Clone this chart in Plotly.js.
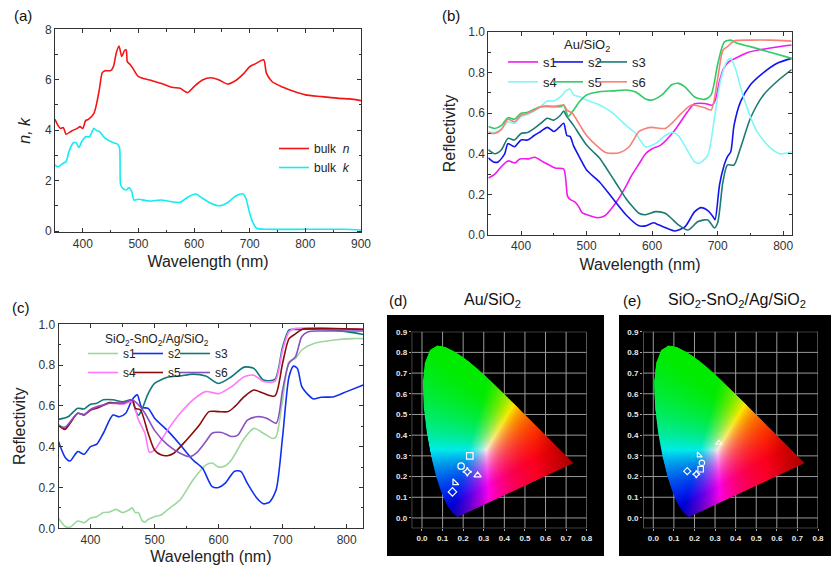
<!DOCTYPE html>
<html><head><meta charset="utf-8">
<script src="https://cdn.plot.ly/plotly-3.0.1.min.js"></script>
<style>html,body{margin:0;padding:0;background:#fff}#plot{width:831px;height:565px}</style>
</head><body><div id="plot"></div>
<script>
// ---------- (a) bulk n, k ----------
var aWlN = [350,355,360,365,370,380,390,395,400,405,410,420,425,430,435,440,450,455,460,465,470,475,478,480,485,490,500,520,540,560,575,588,600,615,630,645,660,675,690,700,710,725,730,740,760,780,800,830,860,880,900];
var aN   = [4.43,4.2,4.07,4.1,3.84,3.97,4.07,4.14,4.07,4.38,4.43,4.67,5.07,5.66,6.28,6.36,6.36,6.52,7.05,7.34,6.92,7.16,7.18,6.72,6.6,6.45,6.12,5.99,5.86,5.7,5.66,5.49,5.73,5.99,6.08,5.99,5.83,5.97,6.26,6.52,6.63,6.79,6.26,5.93,5.7,5.53,5.4,5.33,5.26,5.24,5.17];
var aWlK = [350,355,365,370,375,383,388,393,398,405,412,420,425,430,440,455,462,466,468,472,478,483,488,492,500,520,540,560,575,590,603,615,630,645,660,675,688,693,700,705,712,730,800,870,900];
var aK   = [2.62,2.55,2.69,2.75,3.15,3.5,3.5,3.31,3.55,3.74,3.74,4.07,3.98,3.94,3.68,3.5,3.45,3.3,1.83,1.69,1.63,1.72,1.56,1.23,1.26,1.19,1.23,1.16,1.14,1.36,1.47,1.3,1.1,1.0,1.12,1.39,1.47,1.3,0.7,0.37,0.11,0.07,0.07,0.07,0.04];

// ---------- (b) Au/SiO2 reflectivity ----------
var bS1wl = [350,360,368,380,391,398,411,421,434,452,465,468,471,475,482,488,493,505,516,528,538,549,560,569,580,590,600,613,633,654,664,680,692,697,703,709,718,727,747,778,813];
var bS1   = [0.28,0.30,0.33,0.365,0.355,0.375,0.375,0.383,0.36,0.33,0.325,0.28,0.19,0.175,0.163,0.14,0.11,0.095,0.085,0.095,0.13,0.18,0.24,0.295,0.35,0.40,0.425,0.443,0.51,0.607,0.645,0.648,0.64,0.67,0.76,0.82,0.855,0.87,0.90,0.92,0.936];
var bS2wl = [350,358,365,375,380,390,400,410,420,430,440,450,458,465,470,475,480,490,500,520,540,560,580,590,602,610,625,635,650,665,675,685,693,696,703,710,715,720,725,735,750,770,790,813];
var bS2   = [0.38,0.36,0.36,0.40,0.45,0.435,0.468,0.468,0.49,0.51,0.53,0.51,0.53,0.55,0.49,0.485,0.44,0.378,0.32,0.26,0.18,0.10,0.045,0.045,0.06,0.05,0.03,0.02,0.04,0.115,0.135,0.12,0.09,0.075,0.25,0.345,0.386,0.41,0.54,0.657,0.74,0.80,0.845,0.87];
var bS3wl = [350,360,370,380,390,400,410,420,430,440,450,460,465,470,480,490,500,510,520,530,540,550,560,570,580,590,605,620,630,640,655,670,685,695,700,708,715,725,735,750,770,790,813];
var bS3   = [0.42,0.40,0.42,0.476,0.468,0.50,0.505,0.525,0.55,0.575,0.566,0.59,0.61,0.583,0.54,0.49,0.443,0.41,0.378,0.33,0.28,0.23,0.18,0.14,0.107,0.10,0.115,0.107,0.08,0.05,0.025,0.066,0.074,0.035,0.06,0.26,0.345,0.345,0.43,0.575,0.69,0.755,0.815];
var bS4wl = [350,360,370,380,390,400,410,420,430,440,450,460,470,475,480,490,500,520,540,560,575,590,605,620,630,640,655,665,672,685,695,705,715,720,727,740,760,780,795,813];
var bS4   = [0.51,0.505,0.52,0.558,0.55,0.583,0.594,0.61,0.632,0.66,0.66,0.68,0.714,0.718,0.69,0.68,0.665,0.64,0.60,0.54,0.50,0.435,0.45,0.49,0.505,0.49,0.41,0.36,0.353,0.394,0.575,0.77,0.86,0.87,0.82,0.673,0.51,0.43,0.40,0.41];
var bS5wl = [350,360,370,380,390,400,410,420,430,440,460,465,472,480,490,500,520,540,560,575,590,600,615,630,640,650,665,680,690,700,710,720,730,750,780,813];
var bS5   = [0.534,0.525,0.54,0.578,0.57,0.60,0.604,0.62,0.632,0.635,0.632,0.64,0.585,0.615,0.66,0.69,0.706,0.71,0.714,0.705,0.67,0.665,0.69,0.74,0.747,0.73,0.68,0.668,0.69,0.84,0.95,0.96,0.944,0.928,0.90,0.87];
var bS6wl = [350,360,370,380,390,400,410,420,430,450,465,470,478,490,500,520,530,550,565,580,590,600,620,630,645,660,680,690,700,708,715,725,750,780,813];
var bS6   = [0.504,0.50,0.52,0.57,0.558,0.59,0.60,0.615,0.632,0.632,0.64,0.615,0.60,0.54,0.49,0.427,0.405,0.405,0.435,0.51,0.525,0.53,0.525,0.55,0.60,0.64,0.627,0.616,0.77,0.91,0.928,0.956,0.96,0.96,0.955];

// ---------- (c) SiO2-SnO2/Ag/SiO2 reflectivity ----------
var cS1wl = [350,360,368,380,390,400,410,420,430,440,450,460,465,470,475,480,485,490,500,510,520,540,560,580,590,600,610,620,640,655,670,685,690,700,710,720,730,750,780,810,826];
var cS1   = [0.05,0.01,0.005,0.036,0.028,0.05,0.057,0.077,0.08,0.093,0.077,0.09,0.1,0.077,0.077,0.04,0.03,0.044,0.057,0.065,0.09,0.14,0.237,0.31,0.32,0.30,0.305,0.335,0.44,0.49,0.466,0.44,0.45,0.63,0.817,0.833,0.874,0.907,0.923,0.93,0.93];
var cS2wl = [350,360,368,380,390,400,410,420,435,445,455,465,473,480,490,500,520,540,560,575,590,600,610,625,635,645,660,670,680,690,700,710,717,723,730,740,748,760,780,800,826];
var cS2   = [0.425,0.35,0.33,0.376,0.363,0.40,0.413,0.466,0.555,0.547,0.564,0.63,0.654,0.593,0.588,0.54,0.48,0.41,0.335,0.294,0.204,0.20,0.22,0.28,0.278,0.22,0.147,0.12,0.13,0.19,0.45,0.743,0.795,0.784,0.694,0.654,0.634,0.642,0.645,0.67,0.703];
var cS3wl = [350,365,380,390,400,410,420,435,450,465,470,475,480,490,500,520,540,560,580,600,620,640,655,670,688,700,710,720,760,800,826];
var cS3   = [0.534,0.547,0.588,0.585,0.608,0.613,0.63,0.63,0.62,0.63,0.58,0.555,0.58,0.66,0.71,0.74,0.747,0.756,0.747,0.71,0.743,0.79,0.784,0.727,0.73,0.89,0.972,0.975,0.975,0.964,0.95];
var cS4wl = [350,360,380,390,400,410,430,450,465,475,485,492,500,520,540,560,580,600,620,640,655,670,688,700,710,720,760,826];
var cS4   = [0.506,0.49,0.564,0.556,0.58,0.588,0.613,0.608,0.62,0.53,0.466,0.373,0.384,0.48,0.564,0.63,0.67,0.66,0.694,0.743,0.75,0.72,0.72,0.874,0.964,0.98,0.98,0.975];
var cS5wl = [350,360,380,390,400,410,430,450,465,470,478,490,500,510,520,530,550,570,585,600,615,625,640,655,670,688,700,710,720,730,760,826];
var cS5   = [0.506,0.485,0.564,0.556,0.58,0.59,0.616,0.613,0.63,0.588,0.58,0.466,0.384,0.36,0.356,0.368,0.433,0.506,0.572,0.572,0.572,0.596,0.645,0.678,0.662,0.649,0.81,0.93,0.953,0.975,0.98,0.975];
var cS6wl = [350,360,380,390,400,430,450,465,475,485,500,520,540,555,565,580,590,605,620,630,645,660,675,690,700,710,720,730,740,760,826];
var cS6   = [0.506,0.495,0.564,0.556,0.583,0.613,0.613,0.63,0.605,0.564,0.48,0.41,0.368,0.351,0.368,0.425,0.466,0.47,0.45,0.457,0.53,0.547,0.54,0.515,0.678,0.81,0.84,0.94,0.964,0.967,0.967];

// ---------- (d)/(e) CIE 1931 chromaticity ----------
var locusX = [0.1741,0.1733,0.1714,0.1644,0.1566,0.1440,0.1241,0.1096,0.0913,0.0687,0.0454,0.0235,0.0082,0.0039,0.0139,0.0389,0.0743,0.1142,0.1547,0.1929,0.2296,0.2658,0.3016,0.3373,0.3731,0.4087,0.4441,0.4788,0.5125,0.5448,0.5752,0.6029,0.6270,0.6658,0.6915,0.7079,0.7190,0.7260,0.7300,0.7334,0.7347];
var locusY = [0.0050,0.0048,0.0051,0.0109,0.0177,0.0297,0.0578,0.0868,0.1327,0.2007,0.2950,0.4127,0.5384,0.6548,0.7502,0.8120,0.8338,0.8262,0.8059,0.7816,0.7543,0.7243,0.6923,0.6589,0.6245,0.5896,0.5547,0.5202,0.4866,0.4544,0.4242,0.3965,0.3725,0.3340,0.3083,0.2920,0.2809,0.2740,0.2700,0.2666,0.2653];
var cieTickX = [0,0.1,0.2,0.3,0.4,0.5,0.6,0.7,0.8];
var cieTickY = [0,0.1,0.2,0.3,0.4,0.5,0.6,0.7,0.8,0.9];
var dX = [0.232,0.19,0.22,0.27,0.16,0.148];
var dY = [0.30,0.25,0.223,0.206,0.17,0.126];
var dSym = ['square-open','circle-open','star-diamond-open','triangle-up-open','triangle-sw-open','diamond-open'];
var eX = [0.318,0.222,0.236,0.23,0.165,0.209];
var eY = [0.363,0.303,0.266,0.235,0.226,0.211];
var eSym = ['triangle-up-open','triangle-sw-open','circle-open','square-open','diamond-open','star-diamond-open'];

var W = 831, H = 565;
function px(v){return v/W;}
function py(v){return 1-v/H;}
var FONT = 'Arial, "Liberation Sans", sans-serif';

function cieImage(){
  var S=400, CW=300, CH=340;
  var c1=document.createElement('canvas'); c1.width=CW; c1.height=CH;
  var g1=c1.getContext('2d'); var img=g1.createImageData(CW,CH);
  function clamp(v){return v<0?0:(v>1?1:v);}
  for(var j=0;j<CH;j++){
    for(var i=0;i<CW;i++){
      var x=(i+0.5)/S, y=0.85-(j+0.5)/S; if(y<0.002) y=0.002;
      var X=x/y, Y=1, Z=(1-x-y)/y;
      var r=3.2406*X-1.5372*Y-0.4986*Z, g=-0.9689*X+1.8758*Y+0.0415*Z, b=0.0557*X-0.2040*Y+1.0570*Z;
      r=Math.max(0,r); g=Math.max(0,g); b=Math.max(0,b);
      var m=Math.max(r,g,b,1e-6); r/=m; g/=m; b/=m;
      r=Math.pow(r,1.4*0.75); g=Math.pow(g,1.4*0.75); b=Math.pow(b,1.4*0.75);
      var f=1-0.32*clamp((x-0.55)/0.18);
      var fb=1-0.22*clamp((0.12-y)/0.12);
      var k=(j*CW+i)*4;
      img.data[k]=Math.round(255*r*f*0.98);
      img.data[k+1]=Math.round(255*g*f*0.92*fb);
      img.data[k+2]=Math.round(255*b*f*0.92*fb);
      img.data[k+3]=255;
    }
  }
  g1.putImageData(img,0,0);
  var c2=document.createElement('canvas'); c2.width=CW; c2.height=CH;
  var g2=c2.getContext('2d');
  g2.beginPath();
  for(var n=0;n<locusX.length;n++){
    var xx=locusX[n]*S, yy=(0.85-locusY[n])*S;
    if(n===0) g2.moveTo(xx,yy); else g2.lineTo(xx,yy);
  }
  g2.closePath(); g2.clip(); g2.drawImage(c1,0,0);
  return c2.toDataURL('image/png');
}
var cieSrc = cieImage();

function line(x,y,color,name,xa,ya,leg){
  return {type:'scatter',mode:'lines',x:x,y:y,name:name,xaxis:xa,yaxis:ya,legend:leg,
    line:{color:color,width:1.6,shape:'spline',smoothing:0.7},showlegend:true,hoverinfo:'skip'};
}
var traces = [
  line(aWlN,aN,'#f31515','bulk  <i>n</i>','x','y','legend'),
  line(aWlK,aK,'#12ecf2','bulk  <i>k</i>','x','y','legend'),
  line(bS1wl,bS1,'#f01af0','s1','x2','y2','legend2'),
  line(bS2wl,bS2,'#1414f0','s2','x2','y2','legend3'),
  line(bS3wl,bS3,'#1c7a72','s3','x2','y2','legend4'),
  line(bS4wl,bS4,'#80f6f6','s4','x2','y2','legend2'),
  line(bS5wl,bS5,'#2ecc64','s5','x2','y2','legend3'),
  line(bS6wl,bS6,'#f88078','s6','x2','y2','legend4'),
  line(cS1wl,cS1,'#9cd89c','s1','x3','y3','legend5'),
  line(cS2wl,cS2,'#1030f0','s2','x3','y3','legend6'),
  line(cS3wl,cS3,'#107878','s3','x3','y3','legend7'),
  line(cS4wl,cS4,'#ff78ff','s4','x3','y3','legend5'),
  line(cS5wl,cS5,'#8a0c0c','s5','x3','y3','legend6'),
  line(cS6wl,cS6,'#8a50c0','s6','x3','y3','legend7'),
  {type:'scatter',mode:'markers',x:dX,y:dY,xaxis:'x4',yaxis:'y4',showlegend:false,hoverinfo:'skip',
   marker:{symbol:dSym,size:6.5,color:'#ffffff',line:{color:'#ffffff',width:1.2}}},
  {type:'scatter',mode:'markers',x:eX,y:eY,xaxis:'x5',yaxis:'y5',showlegend:false,hoverinfo:'skip',
   marker:{symbol:eSym,size:5.5,color:'#ffffff',line:{color:'#ffffff',width:1.1}}}
];

function specAx(domain,range,dtick,minor,fmt,title,anchor,standoff,italic){
  return {domain:domain,range:range,dtick:dtick,tick0:0,tickformat:fmt,anchor:anchor,
    showline:true,linecolor:'#333',linewidth:1,mirror:'allticks',ticks:'inside',ticklen:4,tickcolor:'#333',
    minor:{dtick:minor,ticks:'inside',ticklen:2.5,tickcolor:'#333'},
    showgrid:false,zeroline:false,fixedrange:true,
    tickfont:{family:FONT,size:12,color:'#333'},
    title:{text:title,standoff:standoff,font:{family:FONT,size:16,color:'#222',style:italic?'italic':'normal'}}};
}
function cieAx(domain,vals,anchor){
  return {domain:domain,range:[-0.05,vals[vals.length-1]],tickvals:vals,tickformat:'.1f',anchor:anchor,
    showline:false,showgrid:false,zeroline:false,ticks:'outside',ticklen:2,tickcolor:'#aaa',fixedrange:true,
    tickfont:{family:FONT,size:8,color:'#e8e8e8',weight:'bold'}};
}
function leg(x,y,size){
  return {x:x,y:y,xanchor:'left',yanchor:'top',bgcolor:'rgba(0,0,0,0)',borderwidth:0,
    font:{family:FONT,size:size,color:'#222'},tracegroupgap:0,itemwidth:30};
}

var shapes = [
  {type:'rect',xref:'paper',yref:'paper',x0:px(387),x1:px(604),y0:py(556),y1:py(315),fillcolor:'#000',line:{width:0},layer:'below'},
  {type:'rect',xref:'paper',yref:'paper',x0:px(619),x1:px(831),y0:py(556),y1:py(315),fillcolor:'#000',line:{width:0},layer:'below'}
];
['4','5'].forEach(function(s){
  var gx = [-0.05].concat(cieTickX), gy = [-0.05].concat(cieTickY);
  gx.forEach(function(v){shapes.push({type:'line',xref:'x'+s,yref:'y'+s,x0:v,x1:v,y0:-0.05,y1:0.9,layer:'below',line:{color:'#9a9a9a',width:1}});});
  gy.forEach(function(v){shapes.push({type:'line',xref:'x'+s,yref:'y'+s,x0:-0.05,x1:0.8,y0:v,y1:v,layer:'below',line:{color:'#9a9a9a',width:1}});});
});

var images = ['4','5'].map(function(s){
  return {source:cieSrc,xref:'x'+s,yref:'y'+s,x:0,y:0.85,sizex:0.75,sizey:0.85,xanchor:'left',yanchor:'top',sizing:'stretch',layer:'below'};
});

function ann(text,x,y,size,color){
  return {text:text,x:px(x),y:py(y),xref:'paper',yref:'paper',showarrow:false,xanchor:'center',yanchor:'middle',
    font:{family:FONT,size:size,color:color||'#111'}};
}

var layout = {
  width:W,height:H,margin:{l:0,r:0,t:0,b:0},paper_bgcolor:'#fff',plot_bgcolor:'rgba(0,0,0,0)',
  showlegend:true,
  xaxis: specAx([px(55),px(361)],[350,900],100,50,'d','Wavelength (nm)','y',6),
  yaxis: specAx([py(232.3),py(29.3)],[-0.05,8],2,1,'d','n, k','x',10,true),
  xaxis2: specAx([px(488.3),px(791.7)],[350,813],100,50,'d','Wavelength (nm)','y2',6),
  yaxis2: specAx([py(235),py(32)],[0,1],0.2,0.1,'.1f','Reflectivity','x2',8),
  xaxis3: specAx([px(58.5),px(363.3)],[350,826],100,50,'d','Wavelength (nm)','y3',6),
  yaxis3: specAx([py(528.3),py(324.3)],[0,1],0.2,0.1,'.1f','Reflectivity','x3',8),
  xaxis4: cieAx([px(411.7),px(586.7)],cieTickX,'y4'),
  yaxis4: cieAx([py(528.3),py(331.7)],cieTickY,'x4'),
  xaxis5: cieAx([px(643),px(818)],cieTickX,'y5'),
  yaxis5: cieAx([py(528.3),py(331.7)],cieTickY,'x5'),
  legend: leg(px(274),py(134),12),
  legend2: leg(px(503),py(47),13),
  legend3: leg(px(548),py(47),13),
  legend4: leg(px(592),py(47),13),
  legend5: leg(px(83),py(339),12),
  legend6: leg(px(128),py(339),12),
  legend7: leg(px(175),py(339),12),
  shapes: shapes,
  images: images,
  annotations: [
    ann('(a)',23,15,15),
    ann('(b)',451,15,15),
    ann('(c)',21,307,15),
    ann('(d)',398,300,15),
    ann('(e)',632,300,15),
    ann('Au/SiO<sub>2</sub>',587,45,13,'#222'),
    ann('SiO<sub>2</sub>-SnO<sub>2</sub>/Ag/SiO<sub>2</sub>',157,340,12,'#222'),
    ann('Au/SiO<sub>2</sub>',493,300,16),
    ann('SiO<sub>2</sub>-SnO<sub>2</sub>/Ag/SiO<sub>2</sub>',737,300,16)
  ]
};
Plotly.newPlot('plot',traces,layout,{displayModeBar:false,staticPlot:true});
</script></body></html>
